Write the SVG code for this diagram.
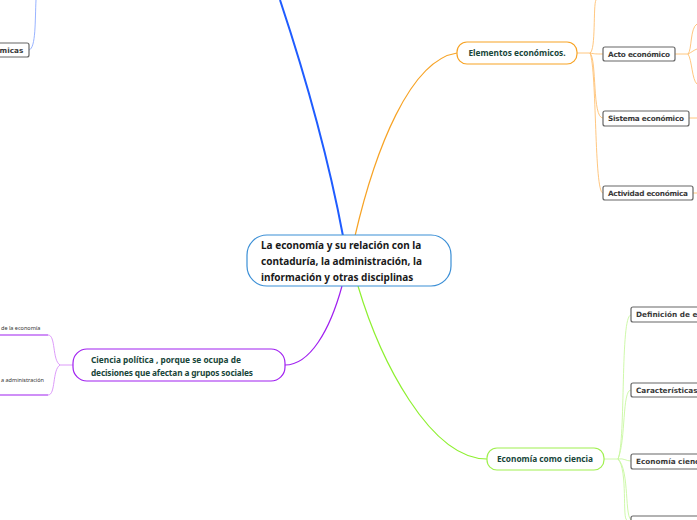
<svg xmlns="http://www.w3.org/2000/svg" width="697" height="520" viewBox="0 0 697 520">
<style>
text{font-family:"Noto Sans","Open Sans",sans-serif;font-weight:bold}
.m{fill:#18463a;font-size:8.3px}
.s{fill:#3a3a3a;font-size:7.3px;font-family:"DejaVu Sans",sans-serif}
.g{fill:#fff;stroke:#666;stroke-width:1.2}
.t{fill:#333;font-size:5.5px;font-weight:normal}
path{fill:none}
</style>
<rect width="697" height="520" fill="#fff"/>
<g id="connectors">
<path d="M343,236 C325,140 300,60 280,0" stroke="#1f5cff" stroke-width="2"/>
<path d="M29,50 C36,48 35,20 36,0" stroke="#7da0ff" stroke-width="0.8"/>
<path d="M355,236 C375,150 410,60 457,53" stroke="#f7a325" stroke-width="1.2"/>
<path d="M342,286 C330,330 310,365 285,365" stroke="#a020f0" stroke-width="1.2"/>
<path d="M358,286 C380,360 430,459 487,459" stroke="#8ef030" stroke-width="1.2"/>
<g stroke="#ffc070" stroke-width="0.9">
<path d="M577,53 L590,53"/>
<path d="M590,53 C596,50 593,5 596,0"/>
<path d="M590,53 C595,54 596,54 603,54"/>
<path d="M590,53 C597,60 592,118 603,118"/>
<path d="M590,53 C597,70 594,193 603,193"/>
<path d="M675,54 L688,54"/>
<path d="M688,54 C692,50 690,28 697,24"/>
<path d="M688,54 C692,52 694,50 697,49"/>
<path d="M688,54 C692,60 692,80 697,84"/>
<path d="M689,118 L697,118"/>
<path d="M693,193 L697,193"/>
</g>
<g stroke="#c8f7a0" stroke-width="0.9">
<path d="M604,459 L618,459"/>
<path d="M618,459 C626,440 620,315 631,315"/>
<path d="M618,459 C626,440 622,390 631,390"/>
<path d="M618,459 C624,458 626,461 631,461"/>
<path d="M618,459 C628,470 622,520 627,520"/>
<path d="M618,459 C630,470 624,520 632,520"/>
</g>
<g stroke="#d890f8" stroke-width="0.9">
<path d="M73,365 L60,365 C52,360 56,335 48,335"/>
<path d="M60,365 C52,370 56,395 48,395"/>
</g>
<path d="M0,335 L48,335 M0,395 L48,395" stroke="#a020f0" stroke-width="1.2"/>
</g>
<g id="central">
<rect x="247" y="235" width="204" height="51" rx="20" fill="#fff" stroke="#3b8fd6" stroke-width="1.2"/>
<text x="261" y="249" font-size="10" fill="#1a1a1a">La economía y su relación con la</text>
<text x="261" y="265" font-size="10" fill="#1a1a1a">contaduría, la administración, la</text>
<text x="261" y="281" font-size="10" fill="#1a1a1a">información y otras disciplinas</text>
</g>
<g id="elementos">
<rect x="457" y="42" width="120" height="22" rx="10" fill="#fff" stroke="#f7a325" stroke-width="1.2"/>
<text x="517" y="56" class="m" text-anchor="middle">Elementos económicos.</text>
</g>
<g id="acto"><rect x="603" y="47" width="72" height="14" rx="2" class="g"/><text x="608" y="57" class="s" textLength="62">Acto económico</text></g>
<g id="sistema"><rect x="603" y="111" width="86" height="15" rx="2" class="g"/><text x="608" y="121" class="s" textLength="76">Sistema económico</text></g>
<g id="actividad"><rect x="603" y="186" width="90" height="14" rx="2" class="g"/><text x="608" y="196" class="s" textLength="80">Actividad económica</text></g>
<g id="economia">
<rect x="487" y="448" width="117" height="22" rx="10" fill="#fff" stroke="#a0f050" stroke-width="1.2"/>
<text x="545" y="462" class="m" text-anchor="middle">Economía como ciencia</text>
</g>
<g id="definicion"><rect x="631" y="307" width="72" height="15" rx="2" class="g"/><text x="636" y="317" class="s">Definición de economía</text></g>
<g id="caracteristicas"><rect x="631" y="383" width="72" height="14" rx="2" class="g"/><text x="636" y="393" class="s">Características de la economía</text></g>
<g id="cienciasocial"><rect x="631" y="454" width="72" height="15" rx="2" class="g"/><text x="636" y="464" class="s">Economía ciencia social</text></g>
<g id="cuarto"><rect x="631" y="516" width="72" height="14" rx="2" class="g"/></g>
<g id="politica">
<rect x="73" y="349" width="212" height="32" rx="14" fill="#fff" stroke="#a020f0" stroke-width="1.2"/>
<text x="91" y="363" class="m">Ciencia política   , porque se ocupa de</text>
<text x="91" y="376" class="m" textLength="162">decisiones que afectan a grupos sociales</text>
</g>
<g id="p1"><text x="1" y="330" class="t">de la economía</text></g>
<g id="p2"><text x="1" y="382" class="t">a administración</text></g>
<g id="economicas"><rect x="-30" y="43" width="59" height="14" rx="2" class="g"/><text x="-25" y="53" class="s">Económicas</text></g>
</svg>
